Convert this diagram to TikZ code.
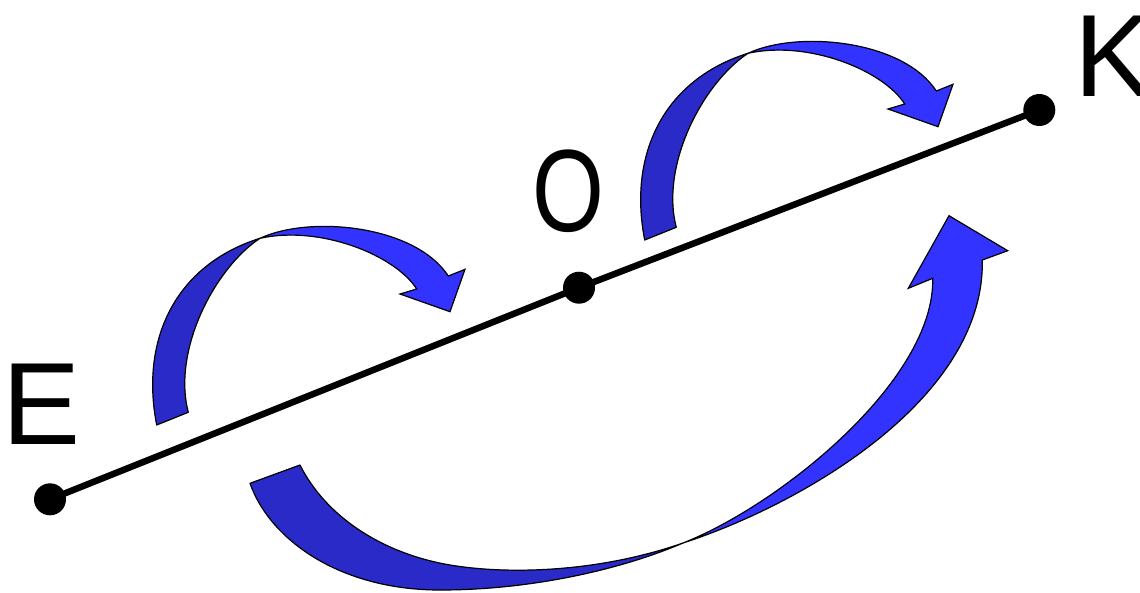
\documentclass[tikz,border=0pt]{standalone}
\usepackage{fontspec}
\setmainfont{Liberation Sans}
\definecolor{backblue}{RGB}{42,42,200}
\definecolor{frontblue}{RGB}{51,51,255}
\tikzset{
  backpart/.style={fill=backblue, draw=black, line width=1.2pt, line join=round},
  frontpart/.style={fill=frontblue, draw=black, line width=1.2pt, line join=miter},
  axisline/.style={line width=6.5pt, draw=black},
  pointdot/.style={circle, fill=black, minimum size=32pt, inner sep=0pt},
  lbl/.style={inner sep=0pt, font=\fontsize{117pt}{117pt}\selectfont},
}
\newcommand\smallTwistArrow{%
  \filldraw[backpart] (156.7,425) .. controls (140,340) and (175,265) .. (260,238.3)
    .. controls (215,268) and (172,350) .. (188.3,412.3) -- cycle;
  \filldraw[frontpart] (260,238.3) .. controls (310,215) and (415,225) .. (448.3,276)
    -- (465,269.3) -- (450,311.7) -- (400,294) -- (416.7,289)
    .. controls (395,255) and (320,225) .. (260,238.3) -- cycle;
}
\begin{document}
\begin{tikzpicture}[x=1pt,y=-1pt]
\useasboundingbox (0,0) rectangle (1140,592);
% small arrow E-O
\smallTwistArrow
% small arrow O-K
\begin{scope}[shift={(488,-185)}]
\smallTwistArrow
\end{scope}
% large arrow
\filldraw[backpart] (250,483.3) .. controls (270,540) and (340,590) .. (440,590)
  .. controls (530,590) and (620,570) .. (683,543)
  .. controls (600,572) and (510,575) .. (450,565)
  .. controls (380,553) and (325,515) .. (300,465) -- cycle;
\filldraw[frontpart] (683,543) .. controls (780,505) and (935,380) .. (932.7,278.3)
  -- (908.3,288.3) -- (949,215.7) -- (1007.7,250.7) -- (982.3,260)
  .. controls (985,400) and (800,505) .. (683,543) -- cycle;
% points and line
\node[pointdot] (E) at (50,499.3) {};
\node[pointdot] (O) at (579,287.7) {};
\node[pointdot] (K) at (1039.3,110) {};
\draw[axisline] (E.center) -- (O.center) -- (K.center);
% labels
\node[lbl, anchor=base west] (Elbl) at (2.5,444) {E};
\node[lbl, anchor=base, xscale=0.79] (Olbl) at (568,231.3) {O};
\node[lbl, anchor=base west] (Klbl) at (1074.5,96.7) {K};
\end{tikzpicture}
\end{document}
